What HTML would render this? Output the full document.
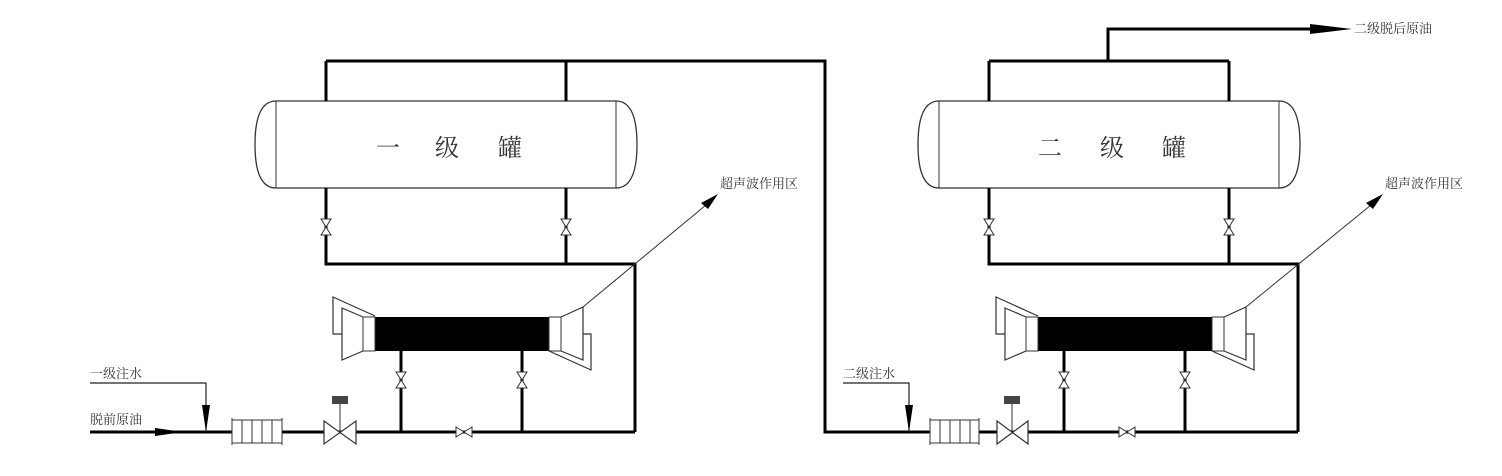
<!DOCTYPE html>
<html><head><meta charset="utf-8"><style>
body{margin:0;background:#fff}
text{font-family:"Liberation Serif","Noto Serif CJK SC",serif;fill:#333}
</style></head><body>
<svg width="1502" height="471" viewBox="0 0 1502 471" xmlns="http://www.w3.org/2000/svg">
<defs>
<g id="vv"><path d="M-5,-8 L5,-8 L-5,8 L5,8 Z" fill="#fff" stroke="#333" stroke-width="1"/></g>
<g id="hv"><path d="M-8,-5 L-8,5 L8,-5 L8,5 Z" fill="#fff" stroke="#333" stroke-width="1"/></g>
<g id="unit">
 <!-- tank -->
 <path d="M276,101 L616,101 Q637,101 637,144.5 Q637,188 616,188 L276,188 Q255,188 255,144.5 Q255,101 276,101 Z" fill="#fff" stroke="#333" stroke-width="1.3"/>
 <line x1="276" y1="101" x2="276" y2="188" stroke="#333" stroke-width="1"/>
 <line x1="616" y1="101" x2="616" y2="188" stroke="#333" stroke-width="1"/>
 <g stroke="#000" stroke-width="3" fill="none">
  <path d="M326,101 V61 M566,101 V61"/>
  <path d="M326,188 V264 H635 V432 M566,188 V264"/>
  <path d="M401,350 V432 M522,350 V432"/>
 </g>
 <use href="#vv" x="326" y="227"/><use href="#vv" x="566" y="227"/>
 <use href="#vv" x="401" y="380"/><use href="#vv" x="522" y="380"/>
 <!-- ultrasonic -->
 <rect x="375" y="317" width="174" height="34" fill="#000"/>
 <rect x="363" y="317" width="12" height="34" fill="#fff" stroke="#333" stroke-width="1"/>
 <rect x="549" y="317" width="12" height="34" fill="#fff" stroke="#333" stroke-width="1"/>
 <g stroke="#333" stroke-width="1.2" fill="none">
  <path d="M375,316 L333,297 V334 H342"/>
  <path d="M363,317 L342,308 V360 L363,351"/>
  <path d="M561,317 L583,307 V360 L561,351"/>
  <path d="M583,334 H591 V370 L549,351"/>
 </g>
</g>
</defs>
<use href="#unit"/>
<use href="#unit" x="663"/>
<!-- main pipes -->
<g stroke="#000" stroke-width="3" fill="none">
 <path d="M326,61 H825 V432 H1298"/>
 <path d="M90,432 H635"/>
 <path d="M989,61 H1229 M1108,61 V29 H1320"/>
</g>
<polygon points="1310,24 1352,29 1310,34" fill="#000"/>
<!-- feed arrow -->
<polygon points="155,428 183,432 155,436" fill="#000"/>
<!-- injection 1 -->
<path d="M90,383 H206 V432" stroke="#222" stroke-width="1.2" fill="none"/>
<polygon points="202,405 206,432 210,405" fill="#000"/>
<path d="M843,383 H909 V432" stroke="#222" stroke-width="1.2" fill="none"/>
<polygon points="905,405 909,432 913,405" fill="#000"/>
<!-- filters -->
<g fill="#fff" stroke="#333" stroke-width="1">
 <rect x="232" y="420" width="50" height="23"/>
 <rect x="930" y="420" width="49" height="23"/>
</g>
<g stroke="#333" stroke-width="1">
 <path d="M232,418 V445 M282,418 V445 M242,420 V443 M252,420 V443 M262,420 V443 M272,420 V443"/>
 <path d="M930,418 V445 M979,418 V445 M940,420 V443 M950,420 V443 M960,420 V443 M970,420 V443"/>
</g>
<!-- control valves -->
<g fill="#fff" stroke="#333" stroke-width="1.2">
 <path d="M324,421 L356,444 L356,421 L324,444 Z"/>
 <path d="M997,421 L1028,444 L1028,421 L997,444 Z"/>
</g>
<g stroke="#333" stroke-width="1"><path d="M340,404 V432 M1012,404 V432"/></g>
<rect x="332" y="396" width="16" height="8" fill="#444"/>
<rect x="1004" y="396" width="16" height="8" fill="#444"/>
<use href="#hv" x="464" y="432"/><use href="#hv" x="1127" y="432"/>
<!-- callouts -->
<g stroke="#333" stroke-width="1"><path d="M583,307 L706,205 M1246,307 L1371,205"/></g>
<polygon points="701,203 718,194 708,209" fill="#000"/>
<polygon points="1366,203 1383,194 1373,209" fill="#000"/>
<g font-size="13">
 <text x="720" y="188">超声波作用区</text>
 <text x="1385" y="188">超声波作用区</text>
 <text x="1354" y="33">二级脱后原油</text>
 <text x="90" y="378">一级注水</text>
 <text x="90" y="424">脱前原油</text>
 <text x="843" y="378">二级注水</text>
</g>
<g font-size="24">
 <text x="388" y="156" text-anchor="middle">一</text>
 <text x="447" y="156" text-anchor="middle">级</text>
 <text x="510" y="156" text-anchor="middle">罐</text>
 <text x="1050" y="156" text-anchor="middle">二</text>
 <text x="1112" y="156" text-anchor="middle">级</text>
 <text x="1174" y="156" text-anchor="middle">罐</text>
</g>
</svg>
</body></html>
